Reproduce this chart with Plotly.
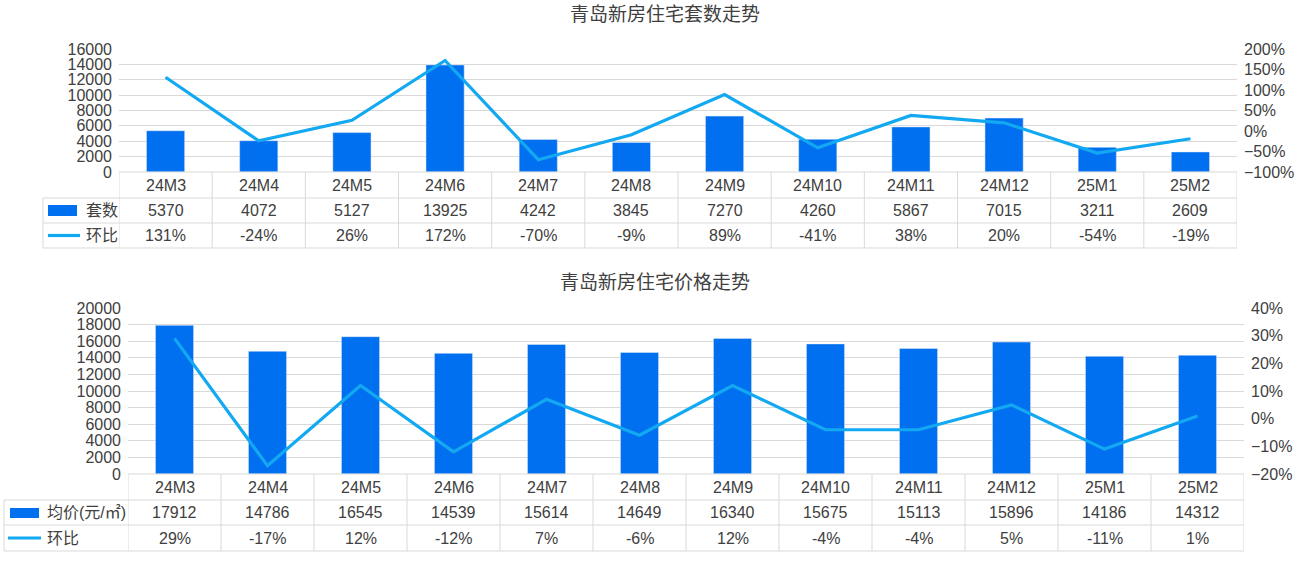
import plotly.graph_objects as go

categories = ["24M3", "24M4", "24M5", "24M6", "24M7", "24M8", "24M9", "24M10", "24M11", "24M12", "25M1", "25M2"]
units = [5370, 4072, 5127, 13925, 4242, 3845, 7270, 4260, 5867, 7015, 3211, 2609]
units_mom = [131, -24, 26, 172, -70, -9, 89, -41, 38, 20, -54, -19]
price = [17912, 14786, 16545, 14539, 15614, 14649, 16340, 15675, 15113, 15896, 14186, 14312]
price_mom = [29, -17, 12, -12, 7, -6, 12, -4, -4, 5, -11, 1]

title1 = "青岛新房住宅套数走势"
title2 = "青岛新房住宅价格走势"
label_units = "套数"
label_price = "均价(元/㎡)"
label_mom = "环比"

W, H = 1299, 561
BAR = "#0070F0"
LINE = "#12A9F2"
GRID = "#D9D9D9"
TXT = "#404040"
FONT = "Liberation Sans, Arial, Noto Sans CJK SC, sans-serif"


def px(x):
    return x / W


def py(y):
    return 1 - y / H


fig = go.Figure()
fig.add_trace(go.Bar(x=categories, y=units, marker_color=BAR, width=0.41,
                     xaxis="x", yaxis="y", showlegend=False))
fig.add_trace(go.Scatter(x=categories, y=[v / 100 for v in units_mom], mode="lines",
                         line=dict(color=LINE, width=3.2), xaxis="x", yaxis="y2", showlegend=False))
fig.add_trace(go.Bar(x=categories, y=price, marker_color=BAR, width=0.41,
                     xaxis="x2", yaxis="y3", showlegend=False))
fig.add_trace(go.Scatter(x=categories, y=[v / 100 for v in price_mom], mode="lines",
                         line=dict(color=LINE, width=3.2), xaxis="x2", yaxis="y4", showlegend=False))

# geometry (pixels)
c1 = dict(l=119, r=1237, t=49, b=172, rows=[172, 198, 223, 248], left=43,
          rect=(48, 205, 77, 216), line=(48, 80), text_x=84)
c2 = dict(l=128, r=1244, t=308, b=474, rows=[474, 500, 525, 551], left=4,
          rect=(10, 508, 39, 518), line=(8, 41), text_x=45)

tickfont = dict(family=FONT, size=16, color=TXT)
common_y = dict(zeroline=False, showline=False, tickfont=tickfont, ticks="",
                ticklabelstandoff=6, automargin=False)
common_x = dict(showticklabels=False, showgrid=False, zeroline=False, showline=False,
                range=[-0.5, 11.5], automargin=False)

fig.update_layout(
    width=W, height=H, margin=dict(l=0, r=0, t=0, b=0, autoexpand=False),
    paper_bgcolor="white", plot_bgcolor="white", bargap=0.59,
    font=dict(family=FONT, color=TXT),
    xaxis=dict(domain=[px(c1["l"]), px(c1["r"])], anchor="y", **common_x),
    yaxis=dict(domain=[py(c1["b"]), py(c1["t"])], range=[0, 16000], dtick=2000,
               tickformat="d", gridcolor=GRID, gridwidth=1, anchor="x", **common_y),
    yaxis2=dict(overlaying="y", side="right", range=[-1, 2], dtick=0.5, tickformat=".0%",
                showgrid=False, anchor="x", **common_y),
    xaxis2=dict(domain=[px(c2["l"]), px(c2["r"])], anchor="y3", **common_x),
    yaxis3=dict(domain=[py(c2["b"]), py(c2["t"])], range=[0, 20000], dtick=2000,
                tickformat="d", gridcolor=GRID, gridwidth=1, anchor="x2", **common_y),
    yaxis4=dict(overlaying="y3", side="right", range=[-0.2, 0.4], dtick=0.1, tickformat=".0%",
                showgrid=False, anchor="x2", **common_y),
)

shapes = []
annotations = []


def build_table(c, xref, bar_vals, mom_vals, bar_label):
    rows = c["rows"]
    span = c["r"] - c["l"]
    left_dom = (c["left"] - c["l"]) / span
    line_style = dict(color=GRID, width=1)
    # horizontal lines
    shapes.append(dict(type="line", xref=xref + " domain", yref="paper", x0=0, x1=1,
                       y0=py(rows[0]), y1=py(rows[0]), line=line_style))
    for r in rows[1:]:
        shapes.append(dict(type="line", xref=xref + " domain", yref="paper", x0=left_dom, x1=1,
                           y0=py(r), y1=py(r), line=line_style))
    # vertical lines at category boundaries
    for i in range(len(categories) + 1):
        shapes.append(dict(type="line", xref=xref, yref="paper", x0=i - 0.5, x1=i - 0.5,
                           y0=py(rows[0]), y1=py(rows[3]), line=line_style))
    shapes.append(dict(type="line", xref=xref + " domain", yref="paper", x0=left_dom, x1=left_dom,
                       y0=py(rows[1]), y1=py(rows[3]), line=line_style))
    # cell text
    centers = [(rows[k] + rows[k + 1]) / 2 for k in range(3)]
    for i, cat in enumerate(categories):
        for k, txt in enumerate([cat, str(bar_vals[i]), f"{mom_vals[i]}%"]):
            annotations.append(dict(x=cat, xref=xref, y=py(centers[k]), yref="paper",
                                    text=txt, showarrow=False, xanchor="center", yanchor="middle",
                                    font=dict(family=FONT, size=16, color=TXT)))
    # legend keys
    rx0, ry0, rx1, ry1 = c["rect"]
    shapes.append(dict(type="rect", xref="paper", yref="paper", x0=px(rx0), x1=px(rx1),
                       y0=py(ry1), y1=py(ry0), fillcolor=BAR, line=dict(width=0)))
    lx0, lx1 = c["line"]
    shapes.append(dict(type="line", xref="paper", yref="paper", x0=px(lx0), x1=px(lx1),
                       y0=py(centers[2]), y1=py(centers[2]), line=dict(color=LINE, width=3.2)))
    for k, txt in [(1, bar_label), (2, label_mom)]:
        annotations.append(dict(x=px(c["text_x"]), xref="paper", y=py(centers[k]), yref="paper",
                                text=txt, showarrow=False, xanchor="left", yanchor="middle",
                                font=dict(family=FONT, size=16, color=TXT)))


build_table(c1, "x", units, units_mom, label_units)
build_table(c2, "x2", price, price_mom, label_price)

annotations.append(dict(x=px(665), y=py(15), xref="paper", yref="paper", text=title1,
                        showarrow=False, xanchor="center", yanchor="middle",
                        font=dict(family=FONT, size=19, color=TXT)))
annotations.append(dict(x=px(655), y=py(282), xref="paper", yref="paper", text=title2,
                        showarrow=False, xanchor="center", yanchor="middle",
                        font=dict(family=FONT, size=19, color=TXT)))

fig.update_layout(shapes=shapes, annotations=annotations)
fig.write_html("out.html", config={"displayModeBar": False},
               post_script="document.body.style.margin='0';document.body.style.overflow='hidden';")
